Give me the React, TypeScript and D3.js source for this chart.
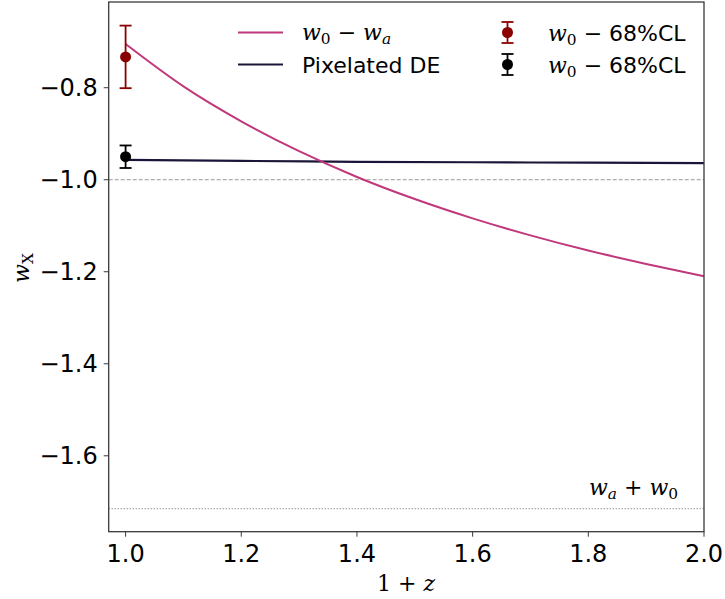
import React from "react";
import * as d3 from "d3";

// redshift grid (1 + z) and the two equation-of-state curves
const cplX = [1.0, 1.1, 1.2, 1.3, 1.4, 1.5, 1.6, 1.7, 1.8, 1.9, 2.0];
const cplW = [-0.705, -0.797, -0.873, -0.938, -0.994, -1.042, -1.084, -1.121, -1.154, -1.183, -1.21];
const pixX = [1.0, 1.2, 1.4, 1.6, 1.8, 2.0];
const pixW = [-0.957, -0.959, -0.961, -0.962, -0.963, -0.964];

// 68% CL constraints on w0 at z = 0
const pointX = [1.0, 1.0];
const pointW = [-0.733, -0.95];
const pointErr = [0.068, 0.0245];
const pointColor = ["#8b0000", "#000000"];

// reference levels
const phantomLine = -1.0;
const asymptote = -1.715;

const xTicks = [1.0, 1.2, 1.4, 1.6, 1.8, 2.0];
const yTicks = [-0.8, -1.0, -1.2, -1.4, -1.6];

const W = 725;
const H = 599;
const left = 108.7;
const right = 704;
const top = 2;
const bottom = 531.7;

const MATH = "'DejaVu Serif', serif";
const SANS = "'DejaVu Sans', sans-serif";
const FS = 22;
const TICK_FS = 24;

const PINK = "#c0387b";
const NAVY = "#1b1639";

const fmt = (v: number) => {
  const s = v.toFixed(1);
  return s.startsWith("-") ? "\u2212" + s.slice(1) : s;
};

export default function App() {
  const x = d3.scaleLinear().domain([0.9708, 2.0]).range([left, right]);
  const y = d3.scaleLinear().domain([-0.6137, -1.765]).range([top, bottom]);

  const line = d3
    .line<[number, number]>()
    .x((d) => x(d[0]))
    .y((d) => y(d[1]))
    .curve(d3.curveMonotoneX);

  const cplPath = line(cplX.map((v, i) => [v, cplW[i]]) as [number, number][]) || "";
  const pixPath = line(pixX.map((v, i) => [v, pixW[i]]) as [number, number][]) || "";

  const cap = 6;
  const r = 5.5;

  const legendRows = [32.5, 64.5];
  const legLineX0 = 238;
  const legLineX1 = 283;
  const legTextX = 302;
  const legMarkX = 507.5;
  const legText2X = 548;
  const SUB = FS * 0.7;

  return (
    <svg width={W} height={H} style={{ position: "absolute", left: 0, top: 0, background: "#fff" }}>
      <rect x={0} y={0} width={W} height={H} fill="#fff" />

      {/* reference lines */}
      <line
        x1={left}
        x2={right}
        y1={y(phantomLine)}
        y2={y(phantomLine)}
        stroke="#999"
        strokeWidth={1}
        strokeDasharray="4,2"
      />
      <line
        x1={left}
        x2={right}
        y1={y(asymptote)}
        y2={y(asymptote)}
        stroke="#666"
        strokeWidth={1}
        strokeDasharray="1,2"
      />

      {/* curves */}
      <path d={pixPath} fill="none" stroke={NAVY} strokeWidth={2.2} />
      <path d={cplPath} fill="none" stroke={PINK} strokeWidth={2} />

      {/* constraints with error bars */}
      {pointX.map((px, i) => {
        const cx = x(px);
        const y0 = y(pointW[i] + pointErr[i]);
        const y1 = y(pointW[i] - pointErr[i]);
        return (
          <g key={i} stroke={pointColor[i]} strokeWidth={1.8}>
            <line x1={cx} x2={cx} y1={y0} y2={y1} />
            <line x1={cx - cap} x2={cx + cap} y1={y0} y2={y0} />
            <line x1={cx - cap} x2={cx + cap} y1={y1} y2={y1} />
            <circle cx={cx} cy={y(pointW[i])} r={r} fill={pointColor[i]} stroke="none" />
          </g>
        );
      })}

      {/* asymptote label */}
      <text x={589} y={495} fontFamily={MATH} fontSize={FS} fill="#000">
        <tspan fontStyle="italic">w</tspan>
        <tspan fontSize={SUB} dy={4} fontStyle="italic">a</tspan>
        <tspan dy={-4}> + </tspan>
        <tspan fontStyle="italic">w</tspan>
        <tspan fontSize={SUB} dy={4}>0</tspan>
      </text>

      {/* spines */}
      <rect
        x={left}
        y={top}
        width={right - left}
        height={bottom - top}
        fill="none"
        stroke="#3a3a3a"
        strokeWidth={1.3}
      />

      {/* x axis */}
      {xTicks.map((t) => (
        <g key={"x" + t}>
          <line x1={x(t)} x2={x(t)} y1={bottom} y2={bottom + 5} stroke="#3a3a3a" strokeWidth={1} />
          <text
            x={x(t)}
            y={bottom + 30}
            textAnchor="middle"
            fontFamily={SANS}
            fontSize={TICK_FS}
            fill="#000"
          >
            {t.toFixed(1)}
          </text>
        </g>
      ))}
      <text x={406} y={591} textAnchor="middle" fontFamily={MATH} fontSize={FS} fill="#000">
        <tspan>1 + </tspan>
        <tspan fontStyle="italic">z</tspan>
      </text>

      {/* y axis */}
      {yTicks.map((t) => (
        <g key={"y" + t}>
          <line x1={left - 5} x2={left} y1={y(t)} y2={y(t)} stroke="#3a3a3a" strokeWidth={1} />
          <text
            x={left - 11}
            y={y(t) + 8.5}
            textAnchor="end"
            fontFamily={SANS}
            fontSize={TICK_FS}
            fill="#000"
          >
            {fmt(t)}
          </text>
        </g>
      ))}
      <text
        transform={`translate(29, 268) rotate(-90)`}
        textAnchor="middle"
        fontFamily={MATH}
        fontSize={FS}
        fill="#000"
      >
        <tspan fontStyle="italic">w</tspan>
        <tspan fontSize={SUB} dy={4}>X</tspan>
      </text>

      {/* legend */}
      <g>
        <line x1={legLineX0} x2={legLineX1} y1={legendRows[0]} y2={legendRows[0]} stroke={PINK} strokeWidth={2} />
        <text x={legTextX} y={legendRows[0] + 7} fontFamily={MATH} fontSize={FS} fill="#000">
          <tspan fontStyle="italic">w</tspan>
          <tspan fontSize={SUB} dy={4}>0</tspan>
          <tspan dy={-4}> − </tspan>
          <tspan fontStyle="italic">w</tspan>
          <tspan fontSize={SUB} dy={4} fontStyle="italic">a</tspan>
        </text>

        <line x1={legLineX0} x2={legLineX1} y1={legendRows[1]} y2={legendRows[1]} stroke={NAVY} strokeWidth={2.2} />
        <text x={legTextX} y={legendRows[1] + 8} fontFamily={SANS} fontSize={FS} fill="#000">
          Pixelated DE
        </text>

        {pointColor.map((c, i) => {
          const cy = legendRows[i];
          return (
            <g key={"leg" + i}>
              <g stroke={c} strokeWidth={1.8}>
                <line x1={legMarkX} x2={legMarkX} y1={cy - 10.5} y2={cy + 10.5} />
                <line x1={legMarkX - cap} x2={legMarkX + cap} y1={cy - 10.5} y2={cy - 10.5} />
                <line x1={legMarkX - cap} x2={legMarkX + cap} y1={cy + 10.5} y2={cy + 10.5} />
                <circle cx={legMarkX} cy={cy} r={r} fill={c} stroke="none" />
              </g>
              <text x={legText2X} y={cy + 8} fontSize={FS} fill="#000">
                <tspan fontFamily={MATH} fontStyle="italic">w</tspan>
                <tspan fontFamily={MATH} fontSize={SUB} dy={4}>0</tspan>
                <tspan fontFamily={MATH} dy={-4}> − </tspan>
                <tspan fontFamily={SANS}>68%CL</tspan>
              </text>
            </g>
          );
        })}
      </g>
    </svg>
  );
}
